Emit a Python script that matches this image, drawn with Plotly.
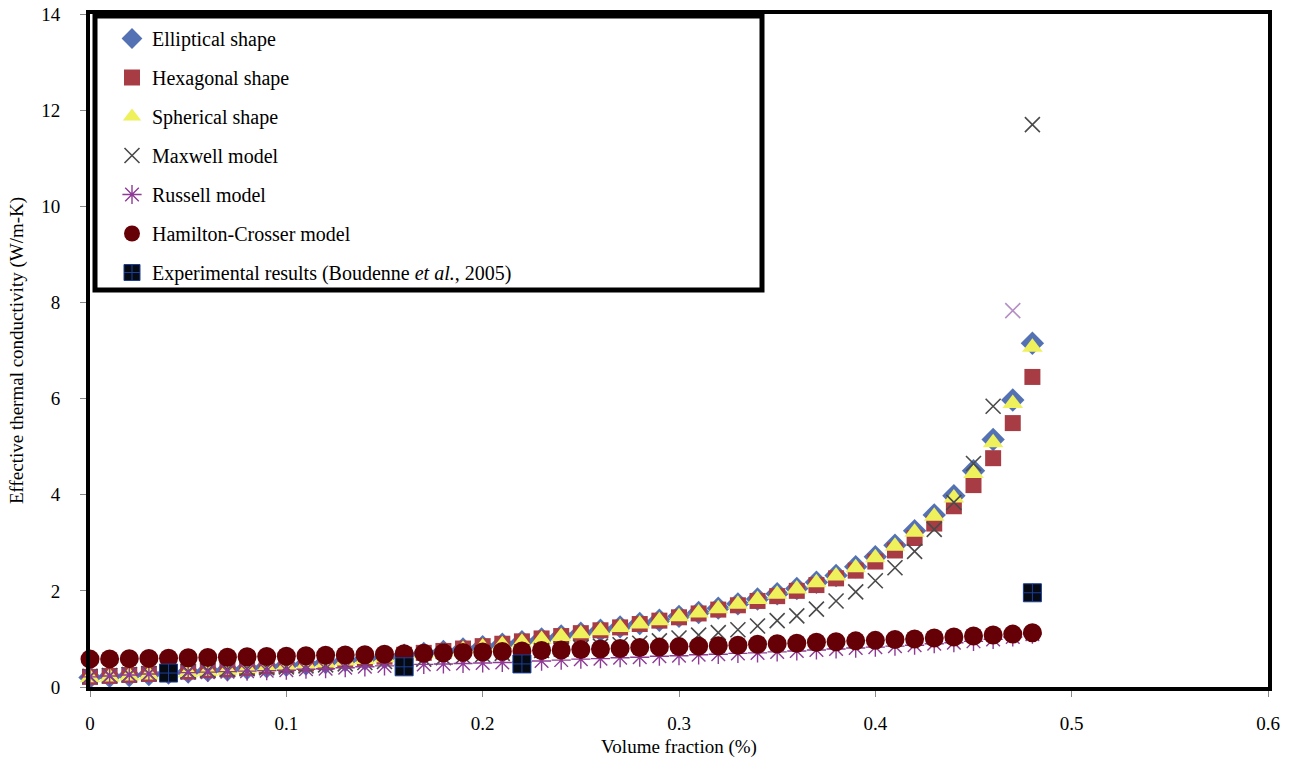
import plotly.graph_objects as go

# ---------------- data ----------------
volume_fraction = [0.00, 0.01, 0.02, 0.03, 0.04, 0.05, 0.06, 0.07, 0.08, 0.09,
                   0.10, 0.11, 0.12, 0.13, 0.14, 0.15, 0.16, 0.17, 0.18, 0.19,
                   0.20, 0.21, 0.22, 0.23, 0.24, 0.25, 0.26, 0.27, 0.28, 0.29,
                   0.30, 0.31, 0.32, 0.33, 0.34, 0.35, 0.36, 0.37, 0.38, 0.39,
                   0.40, 0.41, 0.42, 0.43, 0.44, 0.45, 0.46, 0.47, 0.48]

elliptical = [0.20, 0.22, 0.24, 0.26, 0.29, 0.31, 0.34, 0.36, 0.39, 0.42,
              0.45, 0.48, 0.51, 0.55, 0.58, 0.62, 0.66, 0.70, 0.74, 0.79,
              0.84, 0.89, 0.94, 1.00, 1.06, 1.12, 1.18, 1.25, 1.32, 1.39,
              1.47, 1.55, 1.64, 1.73, 1.83, 1.94, 2.05, 2.18, 2.32, 2.50,
              2.71, 2.95, 3.25, 3.58, 3.98, 4.50, 5.15, 5.97, 7.15]

hexagonal = [0.21, 0.23, 0.25, 0.27, 0.30, 0.32, 0.35, 0.37, 0.40, 0.43,
             0.46, 0.49, 0.52, 0.56, 0.59, 0.63, 0.67, 0.71, 0.75, 0.80,
             0.85, 0.90, 0.95, 1.01, 1.06, 1.12, 1.18, 1.24, 1.31, 1.38,
             1.45, 1.53, 1.61, 1.70, 1.79, 1.89, 2.00, 2.12, 2.26, 2.42,
             2.61, 2.84, 3.10, 3.40, 3.76, 4.20, 4.76, 5.49, 6.45]

spherical = [0.19, 0.21, 0.23, 0.25, 0.28, 0.30, 0.33, 0.35, 0.38, 0.41,
             0.44, 0.47, 0.50, 0.54, 0.57, 0.61, 0.65, 0.69, 0.73, 0.78,
             0.83, 0.88, 0.93, 0.99, 1.05, 1.11, 1.17, 1.24, 1.31, 1.38,
             1.46, 1.54, 1.63, 1.72, 1.82, 1.93, 2.04, 2.17, 2.31, 2.48,
             2.69, 2.93, 3.22, 3.55, 3.93, 4.44, 5.08, 5.90, 7.07]

maxwell = [0.22, 0.24, 0.26, 0.28, 0.30, 0.32, 0.34, 0.36, 0.38, 0.40,
           0.42, 0.44, 0.46, 0.48, 0.51, 0.53, 0.56, 0.58, 0.61, 0.64,
           0.67, 0.70, 0.73, 0.76, 0.79, 0.82, 0.85, 0.88, 0.91, 0.96,
           1.02, 1.08, 1.13, 1.19, 1.27, 1.38, 1.48, 1.62, 1.79, 1.98,
           2.21, 2.48, 2.82, 3.28, 3.84, 4.65, 5.84, 7.83, 11.70]

russell = [0.21, 0.23, 0.25, 0.27, 0.28, 0.30, 0.31, 0.32, 0.33, 0.34,
           0.35, 0.37, 0.38, 0.40, 0.42, 0.44, 0.46, 0.47, 0.48, 0.49,
           0.50, 0.51, 0.52, 0.54, 0.56, 0.58, 0.59, 0.61, 0.62, 0.64,
           0.65, 0.67, 0.68, 0.70, 0.71, 0.73, 0.75, 0.77, 0.79, 0.81,
           0.83, 0.85, 0.87, 0.90, 0.92, 0.95, 0.99, 1.04, 1.10]

hamilton_crosser = [0.58, 0.585, 0.59, 0.595, 0.60, 0.61, 0.615, 0.62, 0.63, 0.635,
                    0.64, 0.65, 0.66, 0.665, 0.67, 0.68, 0.69, 0.70, 0.71, 0.72,
                    0.73, 0.74, 0.75, 0.76, 0.77, 0.78, 0.79, 0.80, 0.82, 0.83,
                    0.84, 0.85, 0.86, 0.87, 0.89, 0.90, 0.91, 0.93, 0.94, 0.96,
                    0.97, 0.99, 1.00, 1.02, 1.04, 1.06, 1.08, 1.10, 1.13]

exp_fraction = [0.04, 0.16, 0.22, 0.48]
exp_values = [0.29, 0.42, 0.48, 1.96]

series_names = ["Elliptical shape", "Hexagonal shape", "Spherical shape",
                "Maxwell model", "Russell model", "Hamilton-Crosser model",
                "Experimental results (Boudenne <i>et al.</i>, 2005)"]

x_ticks = [0, 0.1, 0.2, 0.3, 0.4, 0.5, 0.6]
x_tick_labels = ["0", "0.1", "0.2", "0.3", "0.4", "0.5", "0.6"]
y_ticks = [0, 2, 4, 6, 8, 10, 12, 14]

# ---------------- figure ----------------
FONT = "Liberation Serif, Times New Roman, serif"
fig = go.Figure()

maxwell_colors = ["#4a4a4a"] * len(maxwell)
maxwell_colors[-2] = "#b58fc4"

traces = [
    (elliptical, dict(symbol="diamond", size=18, color="#5472b3",
                      line=dict(width=0))),
    (hexagonal, dict(symbol="square", size=16, color="#a83c45",
                     line=dict(width=0))),
    (spherical, dict(symbol="triangle-up", size=18, color="#eef05c",
                     line=dict(width=0))),
    (maxwell, dict(symbol="x-thin", size=15, color=maxwell_colors,
                   line=dict(width=1.6, color=maxwell_colors))),
    (russell, dict(symbol="asterisk-open", size=16, color="#8e3a96",
                   line=dict(width=1.4, color="#8e3a96"))),
    (hamilton_crosser, dict(symbol="circle", size=19, color="#650006",
                            line=dict(width=0))),
]

for i, (vals, mk) in enumerate(traces):
    fig.add_trace(go.Scatter(
        x=volume_fraction, y=vals, mode="markers", name=series_names[i],
        marker=mk, legendgroup=f"g{i}", cliponaxis=False))

fig.add_trace(go.Scatter(
    x=exp_fraction, y=exp_values, mode="markers", name=series_names[6],
    legendgroup="g6", cliponaxis=False,
    marker=dict(symbol="square-cross", size=18, color="#060a12",
                line=dict(width=1, color="#1c3f9a"))))

ML, MR, MT, MB = 90, 27, 14, 81
W, H = 1295 - ML - MR, 768 - MT - MB

# legend frame
fig.add_shape(type="rect", xref="paper", yref="paper",
              x0=5 / W, x1=672 / W,
              y0=1 - 276 / H, y1=1 - 2 / H,
              line=dict(color="black", width=5), fillcolor="white",
              layer="above")

fig.update_layout(
    width=1295, height=768,
    margin=dict(l=ML, r=MR, t=MT, b=MB),
    paper_bgcolor="white", plot_bgcolor="white",
    font=dict(family=FONT, size=19, color="black"),
    showlegend=True,
    legend=dict(
        x=22 / W, y=1 - 5 / H, xanchor="left", yanchor="top",
        bgcolor="rgba(0,0,0,0)", borderwidth=0,
        font=dict(family=FONT, size=20, color="black"),
        tracegroupgap=10, itemsizing="trace",
    ),
    xaxis=dict(
        range=[0, 0.6], tickvals=x_ticks, ticktext=x_tick_labels,
        showgrid=False, zeroline=False, automargin=False,
        showline=True, linecolor="black", linewidth=4, mirror=True,
        ticks="outside", ticklen=6, tickwidth=1, tickcolor="#888888",
        ticklabelstandoff=10, ticklabeloverflow="allow",
        tickfont=dict(family=FONT, size=19),
        title=dict(text="Volume fraction (%)", standoff=8,
                   font=dict(family=FONT, size=19)),
    ),
    yaxis=dict(
        range=[0, 14], tickvals=y_ticks,
        showgrid=False, zeroline=False, automargin=False,
        showline=True, linecolor="black", linewidth=4, mirror=True,
        ticks="outside", ticklen=6, tickwidth=1, tickcolor="#888888",
        ticklabelstandoff=16, ticklabeloverflow="allow",
        tickfont=dict(family=FONT, size=19),
        title=dict(text="Effective thermal conductivity (W/m-K)", standoff=14,
                   font=dict(family=FONT, size=19)),
    ),
)

fig.write_html("out.html", config={"displayModeBar": False},
               post_script="document.body.style.margin='0px';")
